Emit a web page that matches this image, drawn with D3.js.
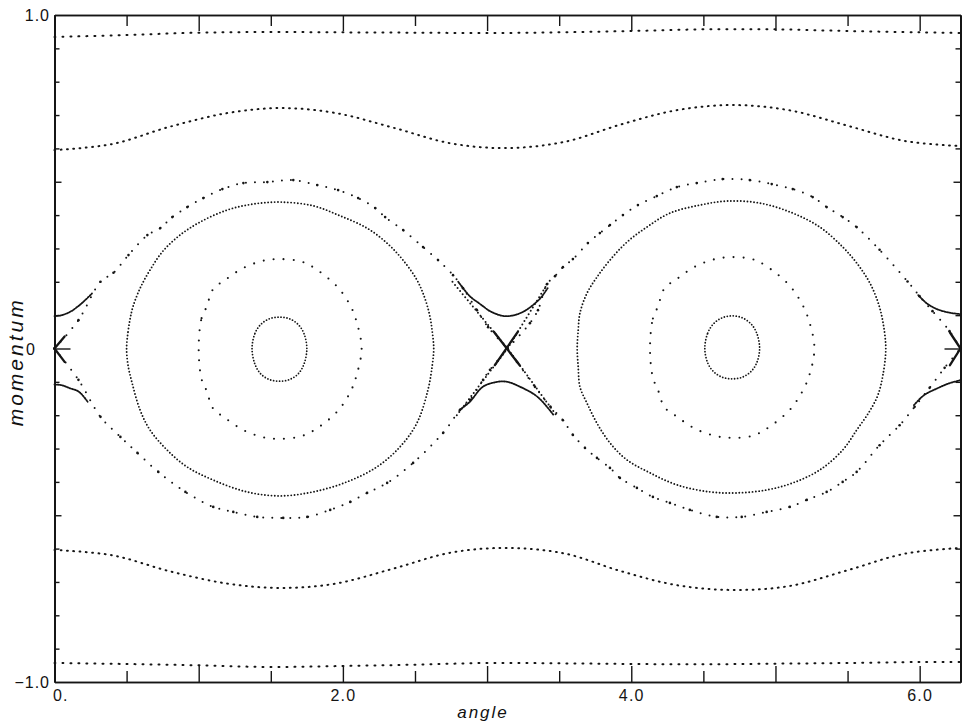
<!DOCTYPE html>
<html>
<head>
<meta charset="utf-8">
<script src="https://cdn.jsdelivr.net/npm/d3@7"></script>
<style>
  body { margin: 0; background: #fff; }
  svg { display: block; }
  .lbl { font-family: "Liberation Sans", "DejaVu Sans", sans-serif; fill: #111; }
</style>
</head>
<body>
<svg id="chart" width="963" height="722"></svg>
<script>
// ---- axis ticks and labels ----
const xMajorTicks = [0, 1, 2, 3, 4, 5, 6];
const xMajorLabels = ["0.", "", "2.0", "", "4.0", "", "6.0"];
const xMinorTicks = [0.5, 1.5, 2.5, 3.5, 4.5, 5.5];
const yMinorTicks = [-0.9, -0.8, -0.7, -0.6, -0.4, -0.3, -0.2, -0.1, 0.1, 0.2, 0.3, 0.4, 0.6, 0.7, 0.8, 0.9];
const yHalfTicks = [-0.5, 0.5];
const yZeroTick = [0];
const yLabelValues = [1, 0, -1];
const yLabelText = ["1.0", "0", "\u22121.0"];

// ---- rotational orbits (angle, momentum) ----
const rotTop = [[0, 0.934], [0.5, 0.940], [1.0, 0.947], [1.5, 0.949], [2.0, 0.948], [2.5, 0.947], [3.0, 0.946],
  [3.5, 0.948], [4.0, 0.952], [4.5, 0.957], [5.0, 0.957], [5.5, 0.952], [6.0, 0.948], [6.283, 0.946]];
const rotUpper = [[0, 0.595], [0.4, 0.613], [0.8, 0.665], [1.2, 0.706], [1.57, 0.721], [1.95, 0.706], [2.35, 0.662],
  [2.75, 0.615], [3.14, 0.601], [3.54, 0.620], [3.93, 0.672], [4.32, 0.715], [4.71, 0.730], [5.1, 0.714],
  [5.5, 0.668], [5.9, 0.622], [6.283, 0.607]];
const rotLower = [[0, -0.604], [0.4, -0.620], [0.8, -0.668], [1.2, -0.705], [1.57, -0.718], [1.95, -0.705], [2.35, -0.660],
  [2.75, -0.612], [3.14, -0.598], [3.54, -0.615], [3.93, -0.668], [4.32, -0.710], [4.71, -0.724], [5.1, -0.712],
  [5.5, -0.665], [5.9, -0.615], [6.283, -0.598]];
const rotBottom = [[0, -0.943], [0.5, -0.946], [1.0, -0.950], [1.5, -0.955], [2.0, -0.952], [2.5, -0.948], [3.0, -0.943],
  [3.5, -0.944], [4.0, -0.946], [4.5, -0.947], [5.0, -0.945], [5.5, -0.943], [6.0, -0.940], [6.283, -0.940]];

// ---- libration orbits around the two elliptic points ----
const islandL1 = [[1.37, 0], [1.39, 0.045], [1.43, 0.072], [1.49, 0.089], [1.56, 0.094], [1.63, 0.089], [1.69, 0.072],
  [1.73, 0.045], [1.75, 0], [1.73, -0.047], [1.69, -0.076], [1.63, -0.093], [1.56, -0.098], [1.49, -0.093],
  [1.43, -0.076], [1.39, -0.047]];
const islandR1 = [[4.51, 0], [4.53, 0.046], [4.57, 0.074], [4.63, 0.092], [4.70, 0.098], [4.77, 0.092], [4.83, 0.074],
  [4.87, 0.046], [4.89, 0], [4.87, -0.043], [4.83, -0.069], [4.77, -0.086], [4.70, -0.091], [4.63, -0.086],
  [4.57, -0.069], [4.53, -0.043]];
const islandL2 = [[1.00, 0], [1.02, 0.091], [1.055, 0.125], [1.10, 0.178], [1.182, 0.205], [1.307, 0.241], [1.446, 0.263],
  [1.56, 0.268], [1.702, 0.262], [1.793, 0.244], [1.959, 0.186], [2.05, 0.13], [2.095, 0.08], [2.13, 0], [2.095, -0.08],
  [2.05, -0.132], [1.959, -0.19], [1.793, -0.247], [1.702, -0.264], [1.56, -0.271], [1.446, -0.266], [1.307, -0.244],
  [1.182, -0.208], [1.10, -0.18], [1.055, -0.127], [1.02, -0.092]];
const islandR2 = [[4.13, 0], [4.15, 0.09], [4.185, 0.126], [4.23, 0.18], [4.315, 0.208], [4.44, 0.245], [4.58, 0.268],
  [4.70, 0.274], [4.84, 0.268], [4.93, 0.249], [5.095, 0.19], [5.185, 0.133], [5.235, 0.08], [5.27, 0], [5.235, -0.08],
  [5.185, -0.13], [5.095, -0.186], [4.93, -0.243], [4.84, -0.262], [4.70, -0.268], [4.58, -0.262], [4.44, -0.24],
  [4.315, -0.204], [4.23, -0.176], [4.185, -0.124], [4.15, -0.088]];
const islandL3 = [[0.50, 0], [0.51, 0.05], [0.525, 0.09], [0.544, 0.125], [0.593, 0.18], [0.662, 0.235], [0.752, 0.292],
  [0.87, 0.34], [1.009, 0.379], [1.196, 0.415], [1.377, 0.433], [1.565, 0.439], [1.793, 0.428], [1.98, 0.398],
  [2.167, 0.361], [2.306, 0.316], [2.417, 0.265], [2.514, 0.205], [2.569, 0.15], [2.604, 0.095], [2.62, 0.05],
  [2.63, 0], [2.62, -0.05], [2.59, -0.124], [2.514, -0.223], [2.396, -0.295], [2.236, -0.355], [2.028, -0.40],
  [1.793, -0.43], [1.564, -0.442], [1.335, -0.43], [1.099, -0.394], [0.919, -0.355], [0.78, -0.304], [0.662, -0.244],
  [0.593, -0.184], [0.538, -0.103], [0.51, -0.05]];
const islandR3 = [[3.625, 0], [3.632, 0.055], [3.644, 0.106], [3.693, 0.166], [3.762, 0.214], [3.852, 0.265],
  [3.97, 0.319], [4.108, 0.364], [4.268, 0.406], [4.476, 0.43], [4.663, 0.442], [4.892, 0.436], [5.12, 0.406],
  [5.308, 0.364], [5.467, 0.304], [5.564, 0.256], [5.65, 0.2], [5.71, 0.14], [5.745, 0.08], [5.765, 0],
  [5.745, -0.08], [5.71, -0.14], [5.65, -0.19], [5.564, -0.244], [5.467, -0.304], [5.308, -0.364], [5.12, -0.403],
  [4.941, -0.424], [4.733, -0.433], [4.546, -0.43], [4.317, -0.409], [4.13, -0.373], [3.97, -0.334], [3.852, -0.283],
  [3.762, -0.224], [3.693, -0.164], [3.644, -0.115], [3.632, -0.055]];

// ---- chaotic layer along the separatrices ----
const sepLeftUpper = [[0, 0], [0.166, 0.085], [0.319, 0.2], [0.409, 0.227], [0.513, 0.28], [0.644, 0.34], [0.734, 0.361],
  [0.817, 0.394], [0.921, 0.424], [1.032, 0.451], [1.164, 0.478], [1.31, 0.496], [1.476, 0.499], [1.656, 0.505],
  [1.822, 0.49], [1.967, 0.475], [2.106, 0.451], [2.224, 0.421], [2.293, 0.394], [2.418, 0.355], [2.556, 0.304],
  [2.66, 0.265], [2.764, 0.22], [2.833, 0.181], [2.93, 0.115], [3.007, 0.064], [3.1416, 0]];
const sepLeftLower = [[0, 0], [0.166, -0.094], [0.319, -0.205], [0.457, -0.265], [0.575, -0.313], [0.72, -0.37],
  [0.908, -0.43], [1.101, -0.475], [1.24, -0.49], [1.406, -0.505], [1.586, -0.508], [1.753, -0.505], [1.912, -0.484],
  [2.051, -0.46], [2.168, -0.433], [2.307, -0.403], [2.487, -0.343], [2.695, -0.253], [2.813, -0.184], [2.882, -0.154],
  [2.972, -0.094], [3.02, -0.064], [3.1416, 0]];
const sepRightUpper = [[3.1416, 0], [3.297, 0.076], [3.353, 0.115], [3.415, 0.193], [3.471, 0.217], [3.526, 0.244],
  [3.595, 0.268], [3.699, 0.316], [3.782, 0.346], [3.852, 0.37], [3.942, 0.4], [4.046, 0.43], [4.177, 0.457],
  [4.316, 0.484], [4.454, 0.496], [4.634, 0.508], [4.822, 0.505], [4.974, 0.493], [5.12, 0.478], [5.258, 0.454],
  [5.355, 0.424], [5.466, 0.394], [5.563, 0.364], [5.722, 0.296], [5.916, 0.201], [5.999, 0.157], [6.089, 0.112],
  [6.207, 0.052], [6.2832, 0]];
const sepRightLower = [[3.1416, 0], [3.207, -0.04], [3.332, -0.115], [3.44, -0.175], [3.526, -0.215], [3.595, -0.259],
  [3.679, -0.298], [3.762, -0.328], [3.852, -0.358], [3.921, -0.388], [4.039, -0.418], [4.15, -0.445], [4.268, -0.463],
  [4.406, -0.484], [4.593, -0.505], [4.766, -0.505], [4.939, -0.49], [5.099, -0.475], [5.217, -0.454], [5.355, -0.43],
  [5.466, -0.4], [5.563, -0.37], [5.722, -0.29], [5.861, -0.23], [5.965, -0.175], [6.069, -0.118], [6.173, -0.058],
  [6.2832, 0]];

// orbits passing just outside the separatrix, near the hyperbolic points
const hypPiUpper = [[2.80, 0.20], [2.88, 0.157], [2.95, 0.134], [3.02, 0.112], [3.08, 0.101], [3.13, 0.097], [3.19, 0.100],
  [3.25, 0.110], [3.30, 0.124], [3.37, 0.151], [3.42, 0.181]];
const hypPiLower = [[2.81, -0.184], [2.88, -0.16], [2.97, -0.115], [3.07, -0.100], [3.14, -0.100], [3.23, -0.115],
  [3.35, -0.145], [3.46, -0.199]];
const hypZeroUpper = [[0, 0.097], [0.05, 0.1], [0.1, 0.108], [0.15, 0.122], [0.2, 0.14], [0.26, 0.165]];
const hypZeroLower = [[0, -0.108], [0.05, -0.11], [0.1, -0.118], [0.17, -0.13], [0.23, -0.16]];
const hypTwoPiUpper = [[5.99, 0.16], [6.05, 0.135], [6.12, 0.118], [6.2, 0.108], [6.283, 0.103]];
const hypTwoPiLower = [[5.96, -0.17], [6.03, -0.14], [6.12, -0.12], [6.2, -0.105], [6.283, -0.095]];

// stable / unstable directions through the hyperbolic points
const crossPiA = [[2.76, 0.2], [3.1416, 0], [3.48, -0.2]];
const crossPiB = [[2.79, -0.2], [3.1416, 0], [3.42, 0.195]];
const crossCorePi = [[[3.047, 0.05], [3.226, -0.05]], [[3.054, -0.05], [3.213, 0.05]]];
const crossCoreEdges = [[[0, 0], [0.07, 0.036]], [[0, 0], [0.07, -0.04]], [[6.2832, 0], [6.21, 0.048]], [[6.2832, 0], [6.21, -0.05]]];

// ---- drawing ----
const x = d3.scaleLinear().domain([0, 2 * Math.PI]).range([54.5, 960.5]);
const y = d3.scaleLinear().domain([-1, 1]).range([682, 15]);
const svg = d3.select("#chart");
const ink = "#151515";

const open = d3.line().x(d => x(d[0])).y(d => y(d[1])).curve(d3.curveCatmullRom.alpha(0.5));
const closed = d3.line().x(d => x(d[0])).y(d => y(d[1])).curve(d3.curveCatmullRomClosed.alpha(0.5));
const straight = d3.line().x(d => x(d[0])).y(d => y(d[1]));

const plot = svg.append("g");

function dotted(data, gen, dash, width) {
  plot.append("path")
    .attr("d", gen(data))
    .attr("fill", "none")
    .attr("stroke", ink)
    .attr("stroke-width", width)
    .attr("stroke-linecap", "round")
    .attr("stroke-dasharray", dash);
}

// rotational orbits
dotted(rotTop, open, "1 7", 2);
dotted(rotBottom, open, "1 7", 2);
dotted(rotUpper, open, "0.8 5.5", 2);
dotted(rotLower, open, "0.8 5.5", 2);

// libration orbits
dotted(islandL1, closed, "0 3", 1.8);
dotted(islandR1, closed, "0 3", 1.8);
dotted(islandL2, closed, "0 10", 2.1);
dotted(islandR2, closed, "0 10", 2.1);
dotted(islandL3, closed, "0 3.3", 1.9);
dotted(islandR3, closed, "0 3.3", 1.9);

// chaotic separatrix layer: sparse dots along the band plus the observed dots
[sepLeftUpper, sepLeftLower, sepRightUpper, sepRightLower].forEach(s => {
  dotted(s, open, "0 9", 2);
  plot.append("g").selectAll("circle").data(s).join("circle")
    .attr("cx", d => x(d[0])).attr("cy", d => y(d[1])).attr("r", 1.3).attr("fill", ink);
});
[hypPiUpper, hypPiLower, hypZeroUpper, hypZeroLower, hypTwoPiUpper, hypTwoPiLower].forEach(s => dotted(s, open, "1.4 1.2", 1.8));
[crossPiA, crossPiB].forEach(s => dotted(s, straight, "0 4", 2));
crossCorePi.concat(crossCoreEdges).forEach(s => {
  plot.append("path").attr("d", straight(s)).attr("fill", "none")
    .attr("stroke", ink).attr("stroke-width", 2.3).attr("stroke-linecap", "round");
});

// ---- axes (frame with inward ticks) ----
function styleAxis(g) {
  g.selectAll(".domain").attr("stroke", ink).attr("stroke-width", 1.6);
  g.selectAll(".tick line").attr("stroke", ink).attr("stroke-width", 1.4);
}
const fontCss = "\"Liberation Sans\", \"DejaVu Sans\", sans-serif";

const bottom = svg.append("g").attr("transform", `translate(0,${y(-1)})`)
  .call(d3.axisBottom(x).tickValues(xMajorTicks).tickSizeInner(-16).tickSizeOuter(0).tickPadding(8)
    .tickFormat((d, i) => xMajorLabels[i]));
bottom.selectAll(".tick text").attr("font-family", fontCss).attr("font-size", 16).attr("fill", ink)
  .attr("letter-spacing", 1.2);
bottom.selectAll(".tick text").filter(d => d === 0).attr("text-anchor", "start").attr("dx", -2);
styleAxis(bottom);
styleAxis(svg.append("g").attr("transform", `translate(0,${y(-1)})`)
  .call(d3.axisBottom(x).tickValues(xMinorTicks).tickSizeInner(-11).tickSizeOuter(0).tickFormat("")));

styleAxis(svg.append("g").attr("transform", `translate(0,${y(1)})`)
  .call(d3.axisTop(x).tickValues(xMajorTicks).tickSizeInner(-16).tickSizeOuter(0).tickFormat("")));
styleAxis(svg.append("g").attr("transform", `translate(0,${y(1)})`)
  .call(d3.axisTop(x).tickValues(xMinorTicks).tickSizeInner(-11).tickSizeOuter(0).tickFormat("")));

[[yMinorTicks, 5], [yHalfTicks, 7], [yZeroTick, 16]].forEach(([vals, len]) => {
  styleAxis(svg.append("g").attr("transform", `translate(${x(0)},0)`)
    .call(d3.axisLeft(y).tickValues(vals).tickSizeInner(-len).tickSizeOuter(0).tickFormat("")));
  styleAxis(svg.append("g").attr("transform", `translate(${x(2 * Math.PI)},0)`)
    .call(d3.axisRight(y).tickValues(vals).tickSizeInner(-len).tickSizeOuter(0).tickFormat("")));
});

// y tick labels
svg.append("g").selectAll("text").data(yLabelValues).join("text")
  .attr("class", "lbl")
  .attr("x", (d, i) => i === 1 ? 36 : 50)
  .attr("y", d => y(d) + 6)
  .attr("text-anchor", "end")
  .attr("font-size", 16)
  .attr("letter-spacing", 1)
  .text((d, i) => yLabelText[i]);

// axis titles
svg.append("text").attr("class", "lbl")
  .attr("x", 483).attr("y", 718)
  .attr("text-anchor", "middle").attr("font-size", 17).attr("font-style", "italic")
  .attr("letter-spacing", 2)
  .text("angle");
svg.append("text").attr("class", "lbl")
  .attr("transform", `translate(23,${y(-0.04)}) rotate(-90)`)
  .attr("text-anchor", "middle").attr("font-size", 21).attr("font-style", "italic")
  .attr("letter-spacing", 3)
  .text("momentum");
</script>
</body>
</html>
